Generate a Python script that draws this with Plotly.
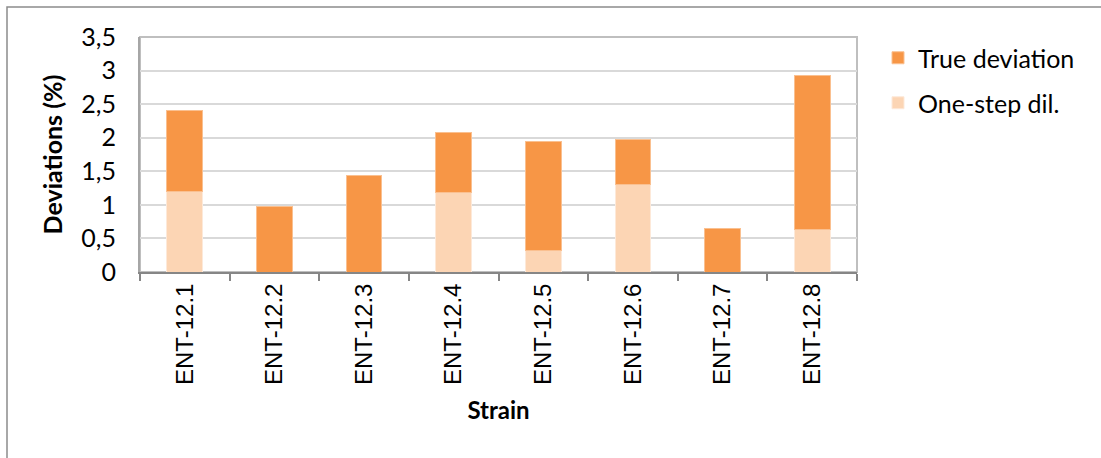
import plotly.graph_objects as go

strains = ["ENT-12.1", "ENT-12.2", "ENT-12.3", "ENT-12.4", "ENT-12.5", "ENT-12.6", "ENT-12.7", "ENT-12.8"]
one_step = [1.20, 0.0, 0.0, 1.19, 0.32, 1.31, 0.0, 0.64]
true_dev = [1.21, 0.97, 1.43, 0.89, 1.63, 0.66, 0.65, 2.28]
y_ticks = [0, 0.5, 1, 1.5, 2, 2.5, 3, 3.5]

DARK = "#F79646"
LIGHT = "#FCD5B4"
FONT = "Lato, Open Sans, sans-serif"
ARIAL = "Liberation Sans, Arial, sans-serif"

fig = go.Figure()
fig.add_trace(go.Bar(x=strains, y=one_step, name="One-step dil.",
                     marker=dict(color=LIGHT, line=dict(color="#FDE9D9", width=1)), legend="legend2"))
fig.add_trace(go.Bar(x=strains, y=true_dev, name="True deviation",
                     marker=dict(color=DARK, line=dict(color="#FAC090", width=1)), legend="legend"))

W, H = 1101, 458
L, R, T, B = 140, 857, 37, 272
pw, ph = R - L, B - T

def px(x):
    return (x - L) / pw

def py(y):
    return (B - y) / ph

fig.update_layout(
    width=W, height=H,
    margin=dict(l=L, r=W - R, t=T, b=H - B),
    barmode="stack", bargap=0.6,
    showlegend=True,
    plot_bgcolor="white", paper_bgcolor="white",
    separators=", ",
    font=dict(family=FONT, size=18, color="black"),
    legend=dict(x=px(878), y=py(58), xanchor="left", yanchor="middle",
                font=dict(size=25, family=FONT), bgcolor="rgba(0,0,0,0)"),
    legend2=dict(x=px(878), y=py(103), xanchor="left", yanchor="middle",
                 font=dict(size=25, family=FONT), bgcolor="rgba(0,0,0,0)"),
    shapes=[
        dict(type="rect", xref="paper", yref="paper", x0=px(7), x1=px(1110), y0=py(470), y1=py(7),
             line=dict(color="#8C8C8C", width=1.5), fillcolor="rgba(0,0,0,0)", layer="below"),
        dict(type="rect", xref="paper", yref="paper", x0=0, x1=1, y0=0, y1=1,
             line=dict(color="#BFBFBF", width=2), fillcolor="rgba(0,0,0,0)", layer="below"),
    ],
)
fig.update_xaxes(
    showline=True, linecolor="#868686", linewidth=2,
    ticks="outside", ticklen=7, tickcolor="#868686", tickwidth=2, tickson="boundaries",
    tickangle=-90, tickfont=dict(family=ARIAL, size=24),
    title=dict(text="<b>Strain</b>", font=dict(family=FONT, size=24), standoff=18),
    showgrid=False,
)
fig.update_yaxes(
    range=[0, 3.5], tickvals=y_ticks, tickformat=".1~f",
    showgrid=True, gridcolor="#D9D9D9", gridwidth=1.5,
    showline=True, linecolor="#A6A6A6", linewidth=2,
    ticks="", ticklabelstandoff=17,
    tickfont=dict(family=FONT, size=25),
    title=dict(text="<b>Deviations (%)</b>", font=dict(family=FONT, size=25), standoff=12),
    zeroline=False,
)

fig.write_html("out.html", config={"displayModeBar": False},
               post_script="document.body.style.margin='0';document.body.style.padding='0';")
